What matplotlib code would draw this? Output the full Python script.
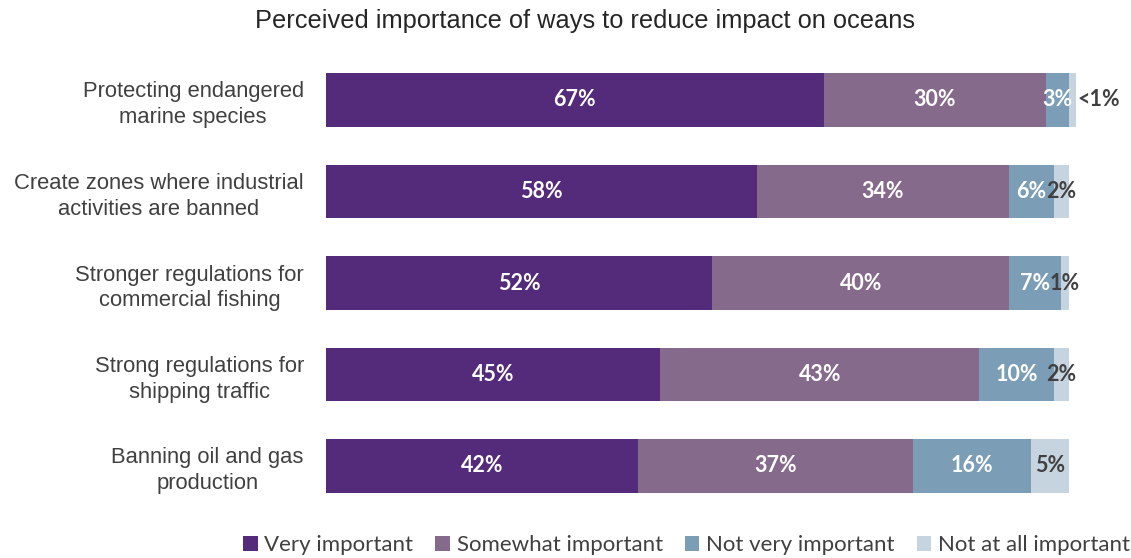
import numpy as np
import matplotlib
matplotlib.use('Agg')
import matplotlib.pyplot as plt

# Data
categories = ['Protecting endangered\nmarine species',
              'Create zones where industrial\nactivities are banned',
              'Stronger regulations for\ncommercial fishing',
              'Strong regulations for\nshipping traffic',
              'Banning oil and gas\nproduction']
series = ['Very important', 'Somewhat important', 'Not very important', 'Not at all important']
very = [67, 58, 52, 45, 42]
somewhat = [30, 34, 40, 43, 37]
not_very = [3, 6, 7, 10, 16]
not_at_all = [1, 2, 1, 2, 5]
labels_not_at_all = ['<1%', '2%', '1%', '2%', '5%']

colors = ['#542A7A', '#866A8B', '#7B9EB6', '#C6D4DF']
text_colors = ['white', 'white', 'white', '#404040']


def main():
    fig = plt.figure(figsize=(11.31, 5.58), dpi=100)
    ax = fig.add_axes([326 / 1131, 1 - 511.75 / 558, 802 / 1131, 457.5 / 558])

    y = np.arange(len(categories))
    left = np.zeros(len(categories))
    data = [very, somewhat, not_very, not_at_all]
    for i, vals in enumerate(data):
        vals = np.array(vals, dtype=float)
        bars = ax.barh(y, vals, left=left, height=0.58, color=colors[i], label=series[i])
        for j, b in enumerate(bars):
            cx = left[j] + vals[j] / 2
            if i == 3:
                txt = labels_not_at_all[j]
                if j == 0:
                    ax.text(left[j] + vals[j] + 0.2, j, txt, ha='left', va='center',
                            color=text_colors[i], fontsize=15.5, fontweight='bold',
                            family=['Lato', 'DejaVu Sans'])
                    continue
            else:
                txt = f'{int(vals[j])}%'
            ax.text(cx, j, txt, ha='center', va='center', color=text_colors[i],
                    fontsize=15.5, fontweight='bold', family=['Lato', 'DejaVu Sans'])
        left += vals

    ax.set_xlim(0, 108)
    ax.set_ylim(4.5, -0.5)
    ax.set_yticks(y)
    ax.set_yticklabels(categories, fontsize=15.8, color='#404040', family='Liberation Sans',
                       multialignment='center', linespacing=1.3)
    ax.tick_params(axis='y', length=0, pad=16)
    ax.set_xticks([])
    for s in ax.spines.values():
        s.set_visible(False)

    fig.text(0.517, 0.963, 'Perceived importance of ways to reduce impact on oceans',
             ha='center', va='center', fontsize=18.3, color='#262626', family='Liberation Sans')

    fig.legend(loc='center', bbox_to_anchor=(0.607, 0.023), ncol=4, frameon=False,
               prop={'family': 'Lato', 'size': 16}, handlelength=0.65, handleheight=0.65,
               handletextpad=0.3, columnspacing=1.0, labelcolor='#404040')

    fig.savefig('out.png', dpi=100)


if __name__ == '__main__':
    main()
